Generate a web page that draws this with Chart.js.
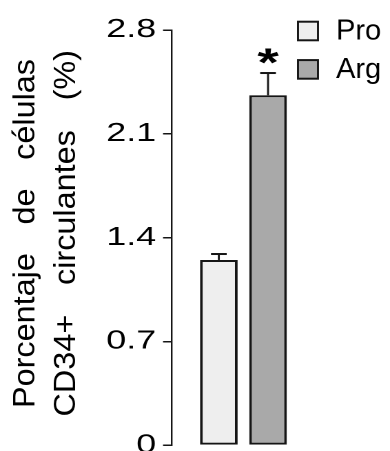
<!DOCTYPE html>
<html>
<head>
<meta charset="utf-8">
<script src="https://cdn.jsdelivr.net/npm/chart.js@4/dist/chart.umd.min.js"></script>
<style>
  html, body { margin: 0; padding: 0; width: 390px; height: 451px; overflow: hidden; background: #fff; }
  #wrap { position: absolute; left: 0; top: 0; width: 283px; height: 466px; transform: scaleX(1.378); transform-origin: 0 0; }
</style>
</head>
<body>
<div id="wrap"><canvas id="c" width="283" height="466"></canvas></div>
<script>
// Circulating CD34+ cells, two groups (mean ± SEM)
const groups = ['Pro', 'Arg'];
const means = [1.25, 2.36];
const errors = [0.04, 0.15];
const fills = ['#eeeeee', '#a9a9a9'];
const significant = [false, true];
const categories = [''];
const yTicks = [0, 0.7, 1.4, 2.1, 2.8];
const yTitleLines = ['Porcentaje de células', 'CD34+ circulantes (%)'];

const SX = 390 / 283;          // horizontal stretch applied to the chart wrapper
const INK = '#151515';
const TEXT = '#000';
const FONT = '"Liberation Sans", Arial, Helvetica, sans-serif';

// mean bars get an upward SEM whisker; significant groups get an asterisk
const errorBars = {
  id: 'errorBars',
  afterDatasetsDraw(chart) {
    const { ctx } = chart;
    const y = chart.scales.y;
    chart.data.datasets.forEach((ds, i) => {
      const bar = chart.getDatasetMeta(i).data[0];
      const top = y.getPixelForValue(ds.data[0]);
      const capY = y.getPixelForValue(ds.data[0] + errors[i]);
      ctx.save();
      ctx.strokeStyle = INK;
      ctx.lineWidth = 1.45;
      ctx.beginPath();
      ctx.moveTo(bar.x, top);
      ctx.lineTo(bar.x, capY);
      ctx.stroke();
      ctx.lineWidth = 2;
      ctx.beginPath();
      ctx.moveTo(bar.x - 5.7, capY);
      ctx.lineTo(bar.x + 5.7, capY);
      ctx.stroke();
      if (significant[i]) {
        ctx.fillStyle = TEXT;
        ctx.font = 'bold 40px ' + FONT;
        ctx.textAlign = 'center';
        ctx.textBaseline = 'alphabetic';
        ctx.fillText('*', bar.x, capY + 3);
      }
      ctx.restore();
    });
  }
};

// two-line justified y-axis title and the boxed legend, drawn without the wrapper stretch
const sideText = {
  id: 'sideText',
  afterDraw(chart) {
    const { ctx } = chart;
    ctx.save();
    ctx.scale(1 / SX, 1);
    ctx.fillStyle = TEXT;
    ctx.font = '30px ' + FONT;
    ctx.textBaseline = 'alphabetic';
    ctx.textAlign = 'left';
    const along = 1.08;
    const spans = [
      { x: 34.3, from: 408, to: 59 },
      { x: 75.4, from: 416.5, to: 50 }
    ];
    yTitleLines.forEach((line, li) => {
      const words = line.split(' ');
      const widths = words.map(w => ctx.measureText(w).width * along);
      const sum = widths.reduce((a, b) => a + b, 0);
      const sp = spans[li];
      const gap = (sp.from - sp.to - sum) / (words.length - 1);
      let pos = sp.from;
      words.forEach((w, k) => {
        ctx.save();
        ctx.translate(sp.x, pos);
        ctx.rotate(-Math.PI / 2);
        ctx.scale(along, 1);
        ctx.fillText(w, 0, 0);
        ctx.restore();
        pos -= widths[k] + gap;
      });
    });

    // legend
    ctx.font = '29px ' + FONT;
    ctx.lineWidth = 2;
    ctx.strokeStyle = INK;
    chart.data.datasets.forEach((ds, i) => {
      const top = 20.7 + i * 38.4;
      ctx.fillStyle = ds.backgroundColor;
      ctx.fillRect(298, top + 1, 20, 18.6);
      ctx.strokeRect(298, top + 1, 20, 18.6);
      ctx.fillStyle = TEXT;
      ctx.fillText(ds.label, 336, top + 19);
    });
    ctx.restore();
  }
};

const datasets = groups.map((g, i) => ({
  label: g,
  data: [means[i]],
  backgroundColor: fills[i],
  borderColor: INK,
  borderWidth: 2,
  borderSkipped: false,
  categoryPercentage: 0.686,
  barPercentage: 0.765
}));

new Chart(document.getElementById('c'), {
  type: 'bar',
  data: { labels: categories, datasets },
  options: {
    responsive: false,
    animation: false,
    devicePixelRatio: 2,
    layout: { padding: { left: 74.6, right: 54.3, top: 30, bottom: 16 } },
    plugins: { legend: { display: false }, tooltip: { enabled: false } },
    scales: {
      x: { display: false },
      y: {
        min: 0,
        max: 2.8,
        afterBuildTicks(scale) { scale.ticks = yTicks.map(v => ({ value: v })); },
        afterFit(scale) { scale.width = 50; },
        border: { display: true, color: INK, width: 1.2 },
        grid: { drawOnChartArea: false, drawTicks: true, tickLength: 6.3, tickWidth: 1.5, tickColor: INK, lineWidth: 1.5, color: INK },
        ticks: {
          padding: 5,
          color: TEXT,
          font: { family: FONT, size: 26 },
          callback: v => String(v)
        }
      }
    }
  },
  plugins: [errorBars, sideText]
});
</script>
</body>
</html>
